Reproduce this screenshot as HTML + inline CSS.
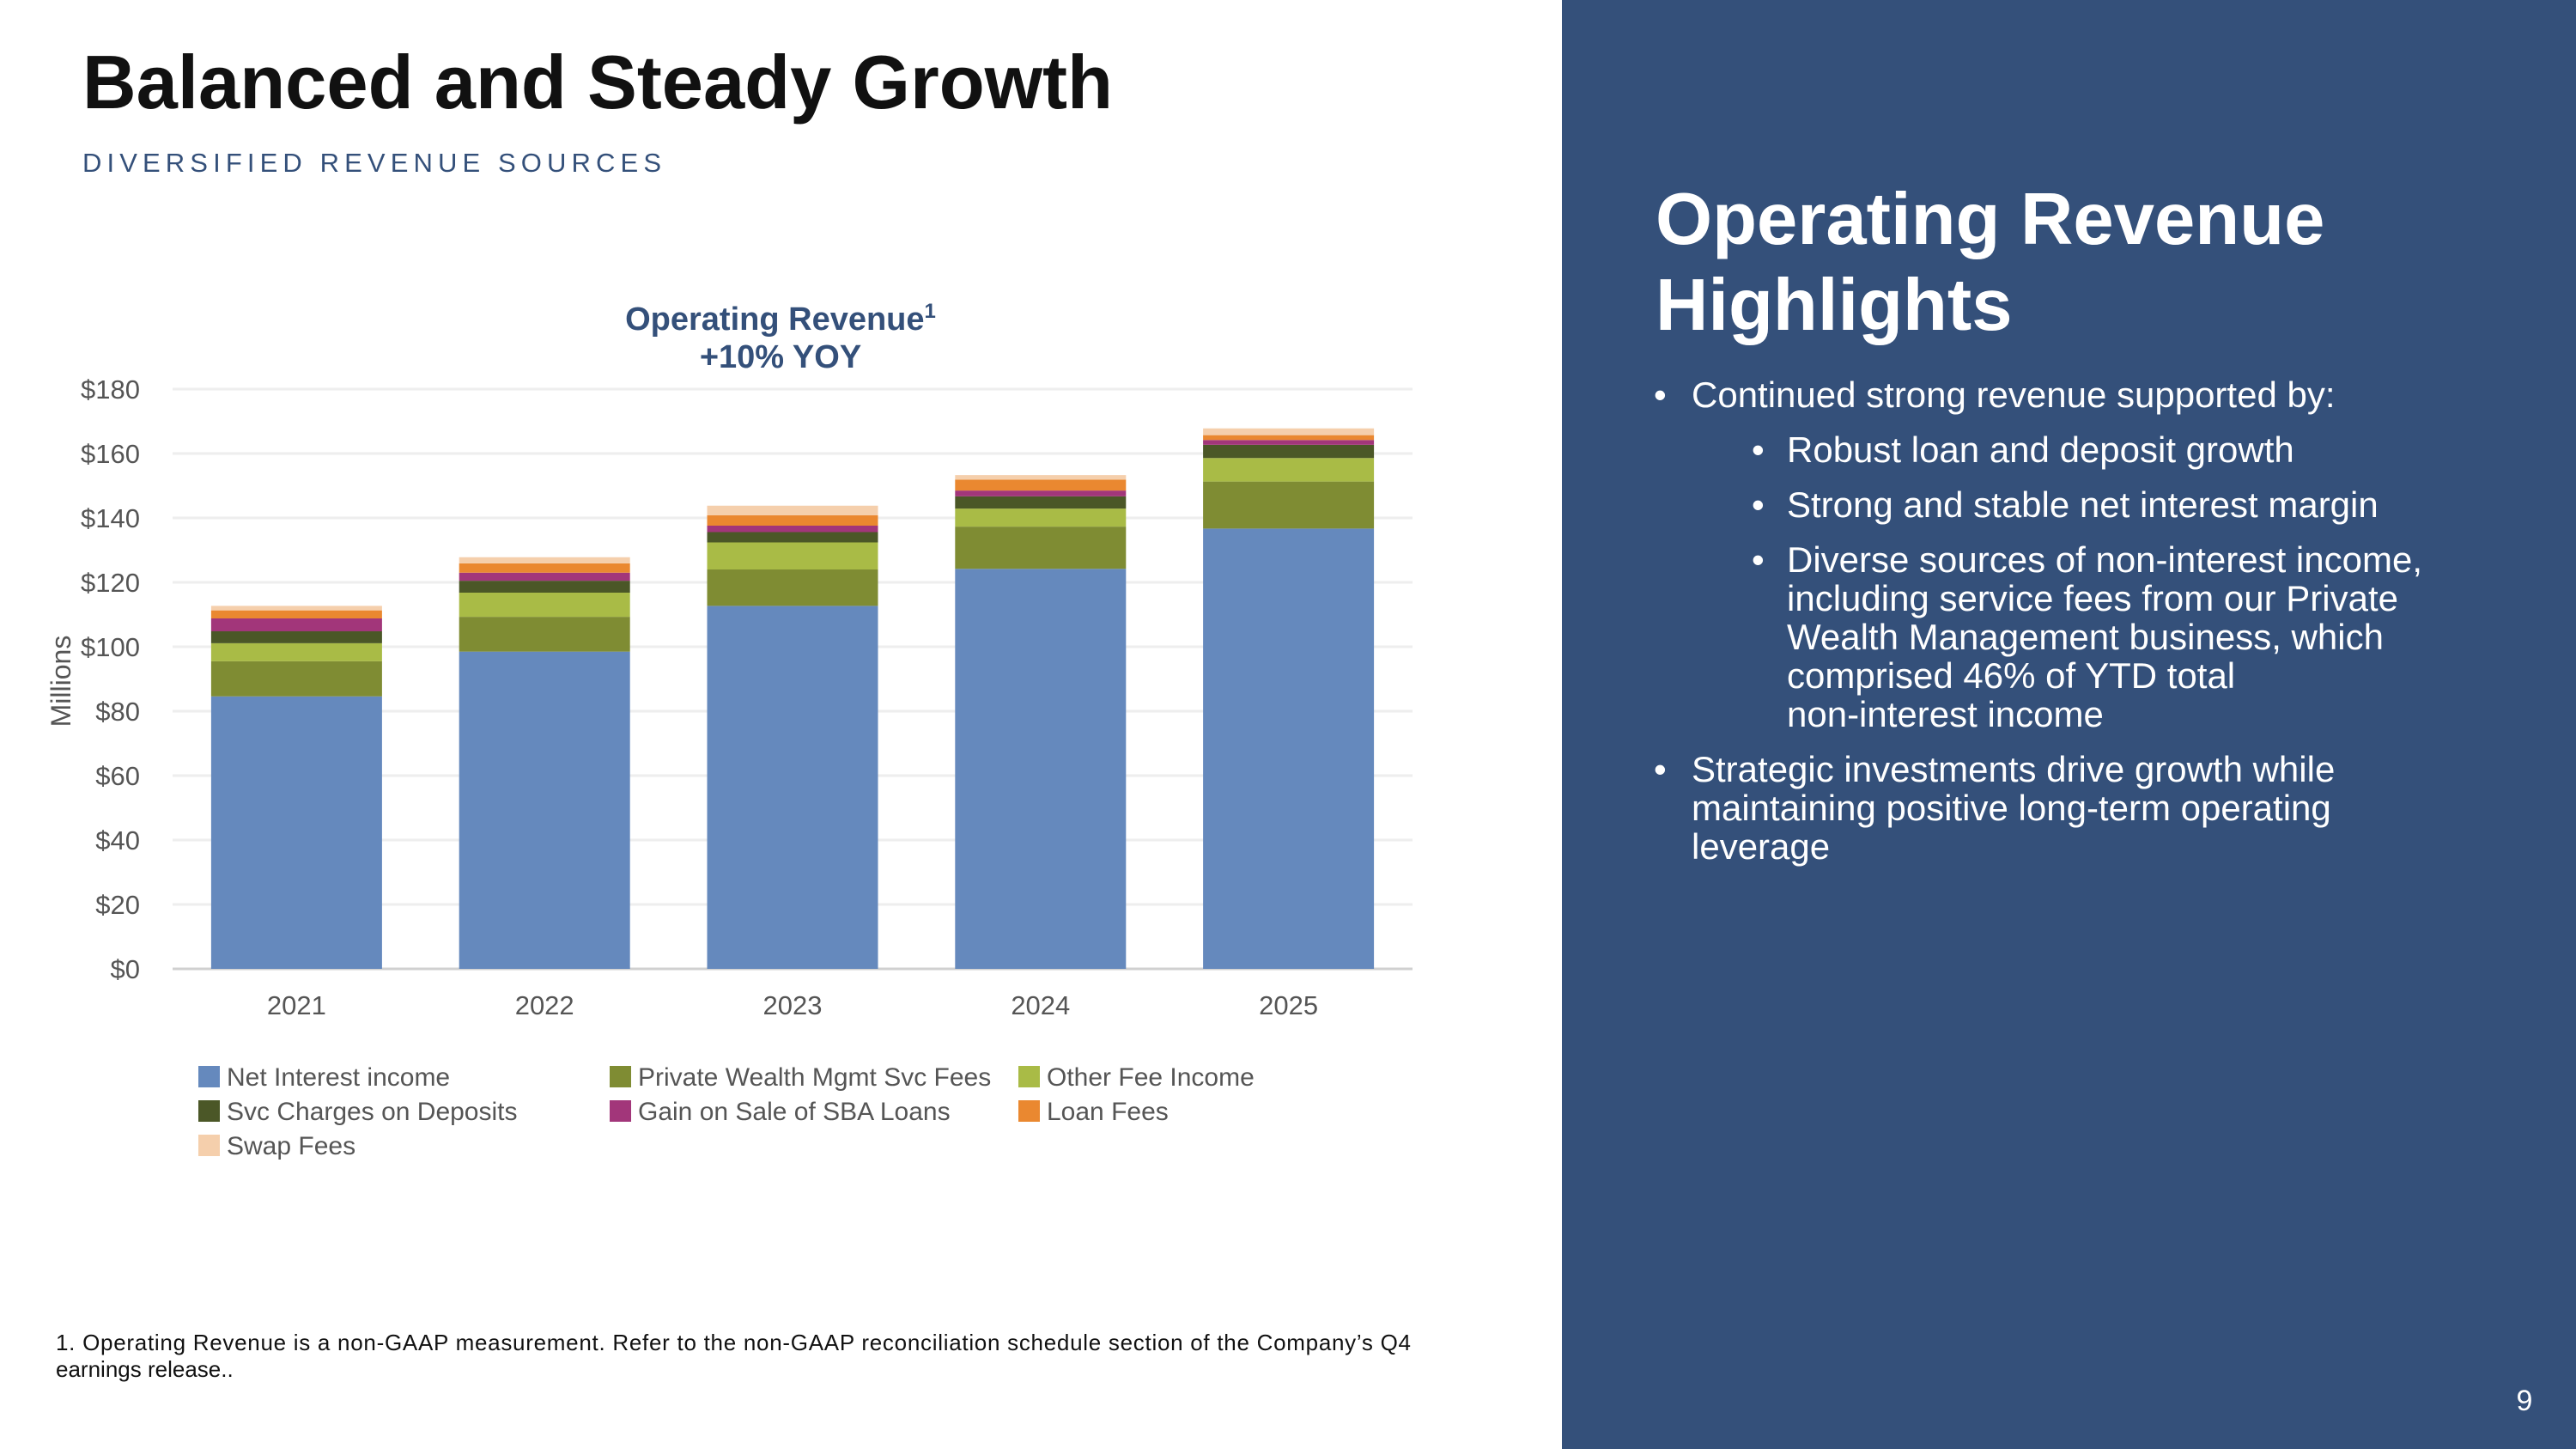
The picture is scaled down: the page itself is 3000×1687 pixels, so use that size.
<!DOCTYPE html>
<html><head><meta charset="utf-8">
<style>
html,body{margin:0;padding:0;background:#fff;}
svg{display:block;font-family:"Liberation Sans",sans-serif;}
</style></head>
<body>
<svg id="page" width="3000" height="1687" viewBox="0 0 3000 1687" xmlns="http://www.w3.org/2000/svg">
<rect x="0" y="0" width="3000" height="1687" fill="#ffffff"/>
<rect x="1819" y="0" width="1181" height="1687" fill="#34507a"/>

<text x="96" y="126" font-size="88" font-weight="bold" fill="#111" textLength="1200" lengthAdjust="spacingAndGlyphs">Balanced and Steady Growth</text>
<text x="96" y="200" font-size="31" fill="#34507a" letter-spacing="9" textLength="683">DIVERSIFIED REVENUE SOURCES</text>

<text x="909" y="384" font-size="38" font-weight="bold" fill="#34507a" text-anchor="middle">Operating Revenue<tspan font-size="24" dy="-14">1</tspan></text>
<text x="909" y="428" font-size="38" font-weight="bold" fill="#34507a" text-anchor="middle">+10%  YOY</text>

<text transform="translate(82,793) rotate(-90)" font-size="32" fill="#555" text-anchor="middle">Millions</text>

<g id="grid"></g>
<g id="bars"></g>
<g id="xlabels"></g>
<g id="legend"></g>

<text x="65" y="1572" font-size="26" fill="#111" textLength="1578">1. Operating Revenue is a non-GAAP measurement. Refer to the non-GAAP reconciliation schedule section of the Company’s Q4</text>
<text x="65" y="1603" font-size="26" fill="#111">earnings release..</text>

<text x="1928" y="284" font-size="85" font-weight="bold" fill="#fff">Operating Revenue</text>
<text x="1928" y="384" font-size="85" font-weight="bold" fill="#fff">Highlights</text>

<g fill="#fff" font-size="42">
<text x="1926" y="474">•</text>
<text x="1970" y="474">Continued strong revenue supported by:</text>
<text x="2040" y="538">•</text>
<text x="2081" y="538">Robust loan and deposit growth</text>
<text x="2040" y="602">•</text>
<text x="2081" y="602">Strong and stable net interest margin</text>
<text x="2040" y="666">•</text>
<text x="2081" y="666">Diverse sources of non-interest income,</text>
<text x="2081" y="711">including service fees from our Private</text>
<text x="2081" y="756">Wealth Management business, which</text>
<text x="2081" y="801">comprised 46% of YTD total</text>
<text x="2081" y="846">non-interest income</text>
<text x="1926" y="910">•</text>
<text x="1970" y="910">Strategic investments drive growth while</text>
<text x="1970" y="955">maintaining positive long-term operating</text>
<text x="1970" y="1000">leverage</text>
</g>

<text x="2940" y="1642" font-size="34" fill="#fff" text-anchor="middle">9</text>
</svg>
<script>
const categories = ["2021","2022","2023","2024","2025"];
const seriesNames = ["Net Interest income","Private Wealth Mgmt Svc Fees","Other Fee Income","Svc Charges on Deposits","Gain on Sale of SBA Loans","Loan Fees","Swap Fees"];
const netInterest = [84.6, 98.5, 112.7, 124.2, 136.7];
const privateWealth = [10.9, 10.8, 11.3, 13.1, 14.6];
const otherFee = [5.6, 7.5, 8.4, 5.6, 7.3];
const svcCharges = [3.7, 3.7, 3.2, 3.8, 4.1];
const sbaGain = [4.0, 2.5, 2.0, 1.8, 1.5];
const loanFees = [2.5, 2.9, 3.2, 3.4, 1.5];
const swapFees = [1.4, 1.9, 3.0, 1.4, 2.1];
const yTicks = [0, 20, 40, 60, 80, 100, 120, 140, 160, 180];
const yTickLabels = ["$0","$20","$40","$60","$80","$100","$120","$140","$160","$180"];

const series = [netInterest, privateWealth, otherFee, svcCharges, sbaGain, loanFees, swapFees];
const colors = ["#6589bd","#7f8c33","#a9bb46","#4b5727","#a2367a","#ea8830","#f5cfac"];
const NS = "http://www.w3.org/2000/svg";
const plotL = 201, plotR = 1645, y0 = 1128, yMax = 180, plotTop = 453;
function yScale(v){ return y0 - (v / yMax) * (y0 - plotTop); }
const band = (plotR - plotL) / categories.length;
function xCenter(i){ return plotL + band * (i + 0.5); }
const barW = 199;
function mk(tag, attrs, parent){ const e = document.createElementNS(NS, tag); for (const k in attrs) e.setAttribute(k, attrs[k]); parent.appendChild(e); return e; }

const grid = document.getElementById('grid');
yTicks.forEach((t, i) => {
  const y = yScale(t);
  const ln = mk('line', {x1: plotL, x2: plotR, y1: y, y2: y, stroke: t === 0 ? '#d0d0d0' : '#eeeeee', 'stroke-width': 3}, grid);
  
  
  const tx = mk('text', {x: 163, y: y + 11, 'font-size': 31, fill: '#555', 'text-anchor': 'end'}, grid);
  tx.textContent = yTickLabels[i];
  
  
});

const bars = document.getElementById('bars');
categories.forEach((c, i) => {
  let cum = 0;
  series.forEach((s, k) => {
    const top = yScale(cum + s[i]), bot = yScale(cum);
    const r = mk('rect', {x: xCenter(i) - barW / 2, y: top, width: barW, height: Math.max(0, bot - top), fill: colors[k]}, bars);
    
    
    cum += s[i];
  });
});

const xl = document.getElementById('xlabels');
categories.forEach((c, i) => {
  const t = mk('text', {x: xCenter(i), y: 1181, 'font-size': 31, fill: '#555', 'text-anchor': 'middle'}, xl);
  t.textContent = c;
  
  
});

const lg = document.getElementById('legend');
const legCols = [231, 710, 1186], legRows = [1254, 1294, 1334];
seriesNames.forEach((n, k) => {
  const col = k % 3, row = Math.floor(k / 3);
  const g = mk('g', {}, lg);
  
  
  mk('rect', {x: legCols[col], y: legRows[row] - 13, width: 25, height: 25, fill: colors[k]}, g);
  const t = mk('text', {x: legCols[col] + 33, y: legRows[row] + 10, 'font-size': 30, fill: '#555'}, g);
  t.textContent = n;
});
</script>
</body></html>
